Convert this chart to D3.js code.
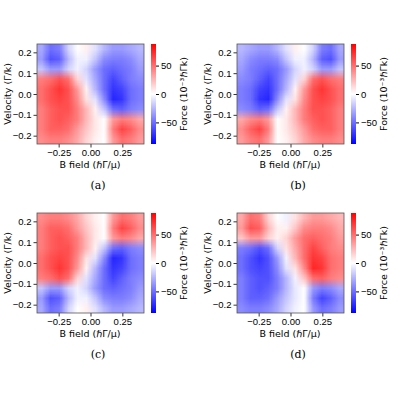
<!DOCTYPE html>
<html><head><meta charset="utf-8">
<script src="https://cdn.jsdelivr.net/npm/d3@7"></script>
<style>body{margin:0;background:#fff}svg{display:block}</style>
</head><body>
<script>
// Force grid for panel (a): rows from v=+0.216 down to v=-0.216, cols from B=-0.385 to 0.385
const gridA = [
 [-30,-50,-45,-15,0,5,-10,-25,-35,-35,-30,-25],
 [-35,-60,-55,-25,-5,-5,-20,-40,-45,-45,-40,-30],
 [-20,-35,-35,-15,-5,-15,-35,-50,-55,-50,-45,-35],
 [45,50,60,50,15,-10,-30,-50,-65,-55,-45,-40],
 [50,60,70,60,35,5,-25,-50,-70,-65,-50,-45],
 [50,60,65,60,40,10,-10,-40,-75,-70,-50,-45],
 [45,55,60,60,45,25,5,-20,-50,-55,-45,-40],
 [45,55,60,55,45,25,8,0,35,45,40,30],
 [45,55,55,50,35,20,8,0,45,65,55,40],
 [40,45,45,40,30,15,5,0,35,50,45,35]
];
// (b) mirrored in B, (c) mirrored in velocity, (d) sign reversed — as seen in the picture
const gridB = gridA.map(r => r.slice().reverse());
const gridC = gridA.slice().reverse();
const gridD = gridA.map(r => r.map(v => -v));
const panels = [
 {label:"(a)", grid:gridA, ox:0, oy:0},
 {label:"(b)", grid:gridB, ox:200, oy:0},
 {label:"(c)", grid:gridC, ox:0, oy:169},
 {label:"(d)", grid:gridD, ox:200, oy:169}
];
const bDomain = [-0.42, 0.42];
const vDomain = [-0.24, 0.24];
const bTicks = [-0.25, 0, 0.25];
const vTicks = [-0.2, -0.1, 0, 0.1, 0.2];
const cDomain = [-88, 88];
const cTicks = [-50, 0, 50];

const svg = d3.select("body").append("svg").attr("width",400).attr("height",400)
  .style("font-family","DejaVu Sans");
const color = d3.scaleLinear().domain([cDomain[0],0,cDomain[1]]).range(["#0000ff","#ffffff","#ff0000"]);
const defs = svg.append("defs");
const lg = defs.append("linearGradient").attr("id","cb").attr("x1",0).attr("y1",1).attr("x2",0).attr("y2",0);
d3.range(0,1.0001,0.1).forEach(t=>lg.append("stop").attr("offset",t).attr("stop-color",color(cDomain[0]+t*(cDomain[1]-cDomain[0]))));

function fmtB(d){return d===0?"0.00":(d<0?"\u2212":"")+Math.abs(d).toFixed(2);}
function fmt1(d){return d===0?"0.0":(d<0?"\u2212":"")+Math.abs(d).toFixed(1);}
function fmtC(d){return d<0?"\u2212"+Math.abs(d):String(d);}

panels.forEach(p=>{
  const g = svg.append("g").attr("transform",`translate(${p.ox},${p.oy})`);
  const x = d3.scaleLinear().domain(bDomain).range([37,144]);
  const y = d3.scaleLinear().domain(vDomain).range([144,44]);
  const rows = p.grid.length, cols = p.grid[0].length;
  const cv = document.createElement("canvas"); cv.width=cols; cv.height=rows;
  const ctx = cv.getContext("2d");
  p.grid.forEach((r,i)=>r.forEach((v,j)=>{ctx.fillStyle=color(v);ctx.fillRect(j,i,1,1);}));
  g.append("image").attr("href",cv.toDataURL()).attr("preserveAspectRatio","none")
    .attr("x",x(bDomain[0])).attr("y",y(vDomain[1]))
    .attr("width",x(bDomain[1])-x(bDomain[0])).attr("height",y(vDomain[0])-y(vDomain[1]));
  const ax = g.append("g").attr("transform","translate(0,144)")
    .call(d3.axisBottom(x).tickValues(bTicks).tickFormat(fmtB).tickSize(3.5).tickPadding(1.5));
  const ay = g.append("g").attr("transform","translate(37,0)")
    .call(d3.axisLeft(y).tickValues(vTicks).tickFormat(fmt1).tickSize(3.5).tickPadding(2));
  [ax,ay].forEach(a=>{a.select(".domain").remove();a.selectAll("text").attr("font-size",9.5).attr("fill","#000");a.selectAll("line").attr("stroke","#000").attr("stroke-width",0.8);});
  g.append("rect").attr("x",37).attr("y",44).attr("width",107).attr("height",100).attr("fill","none").attr("stroke","#555").attr("stroke-width",0.8);
  g.append("text").attr("x",90).attr("y",168).attr("text-anchor","middle").attr("font-size",9.5).text("B field (\u210FΓ/μ)");
  g.append("text").attr("transform","translate(11,94) rotate(-90)").attr("text-anchor","middle").attr("font-size",9.5).text("Velocity (Γ/k)");
  g.append("text").attr("x",98).attr("y",189).attr("text-anchor","middle").attr("font-size",11).attr("font-family","DejaVu Serif").text(p.label);
  // colorbar
  const cy = d3.scaleLinear().domain(cDomain).range([144,44]);
  g.append("rect").attr("x",151).attr("y",44).attr("width",5).attr("height",100).attr("fill","url(#cb)");
  const ac = g.append("g").attr("transform","translate(156,0)").call(d3.axisRight(cy).tickValues(cTicks).tickFormat(fmtC).tickSize(3).tickPadding(2));
  ac.select(".domain").remove(); ac.selectAll("text").attr("font-size",9.5).attr("fill","#000");
  g.append("text").attr("transform","translate(187,94) rotate(-90)").attr("text-anchor","middle").attr("font-size",9.5)
    .text("Force (10\u207B\u00B3\u210FΓk)");
});
</script>
</body></html>
